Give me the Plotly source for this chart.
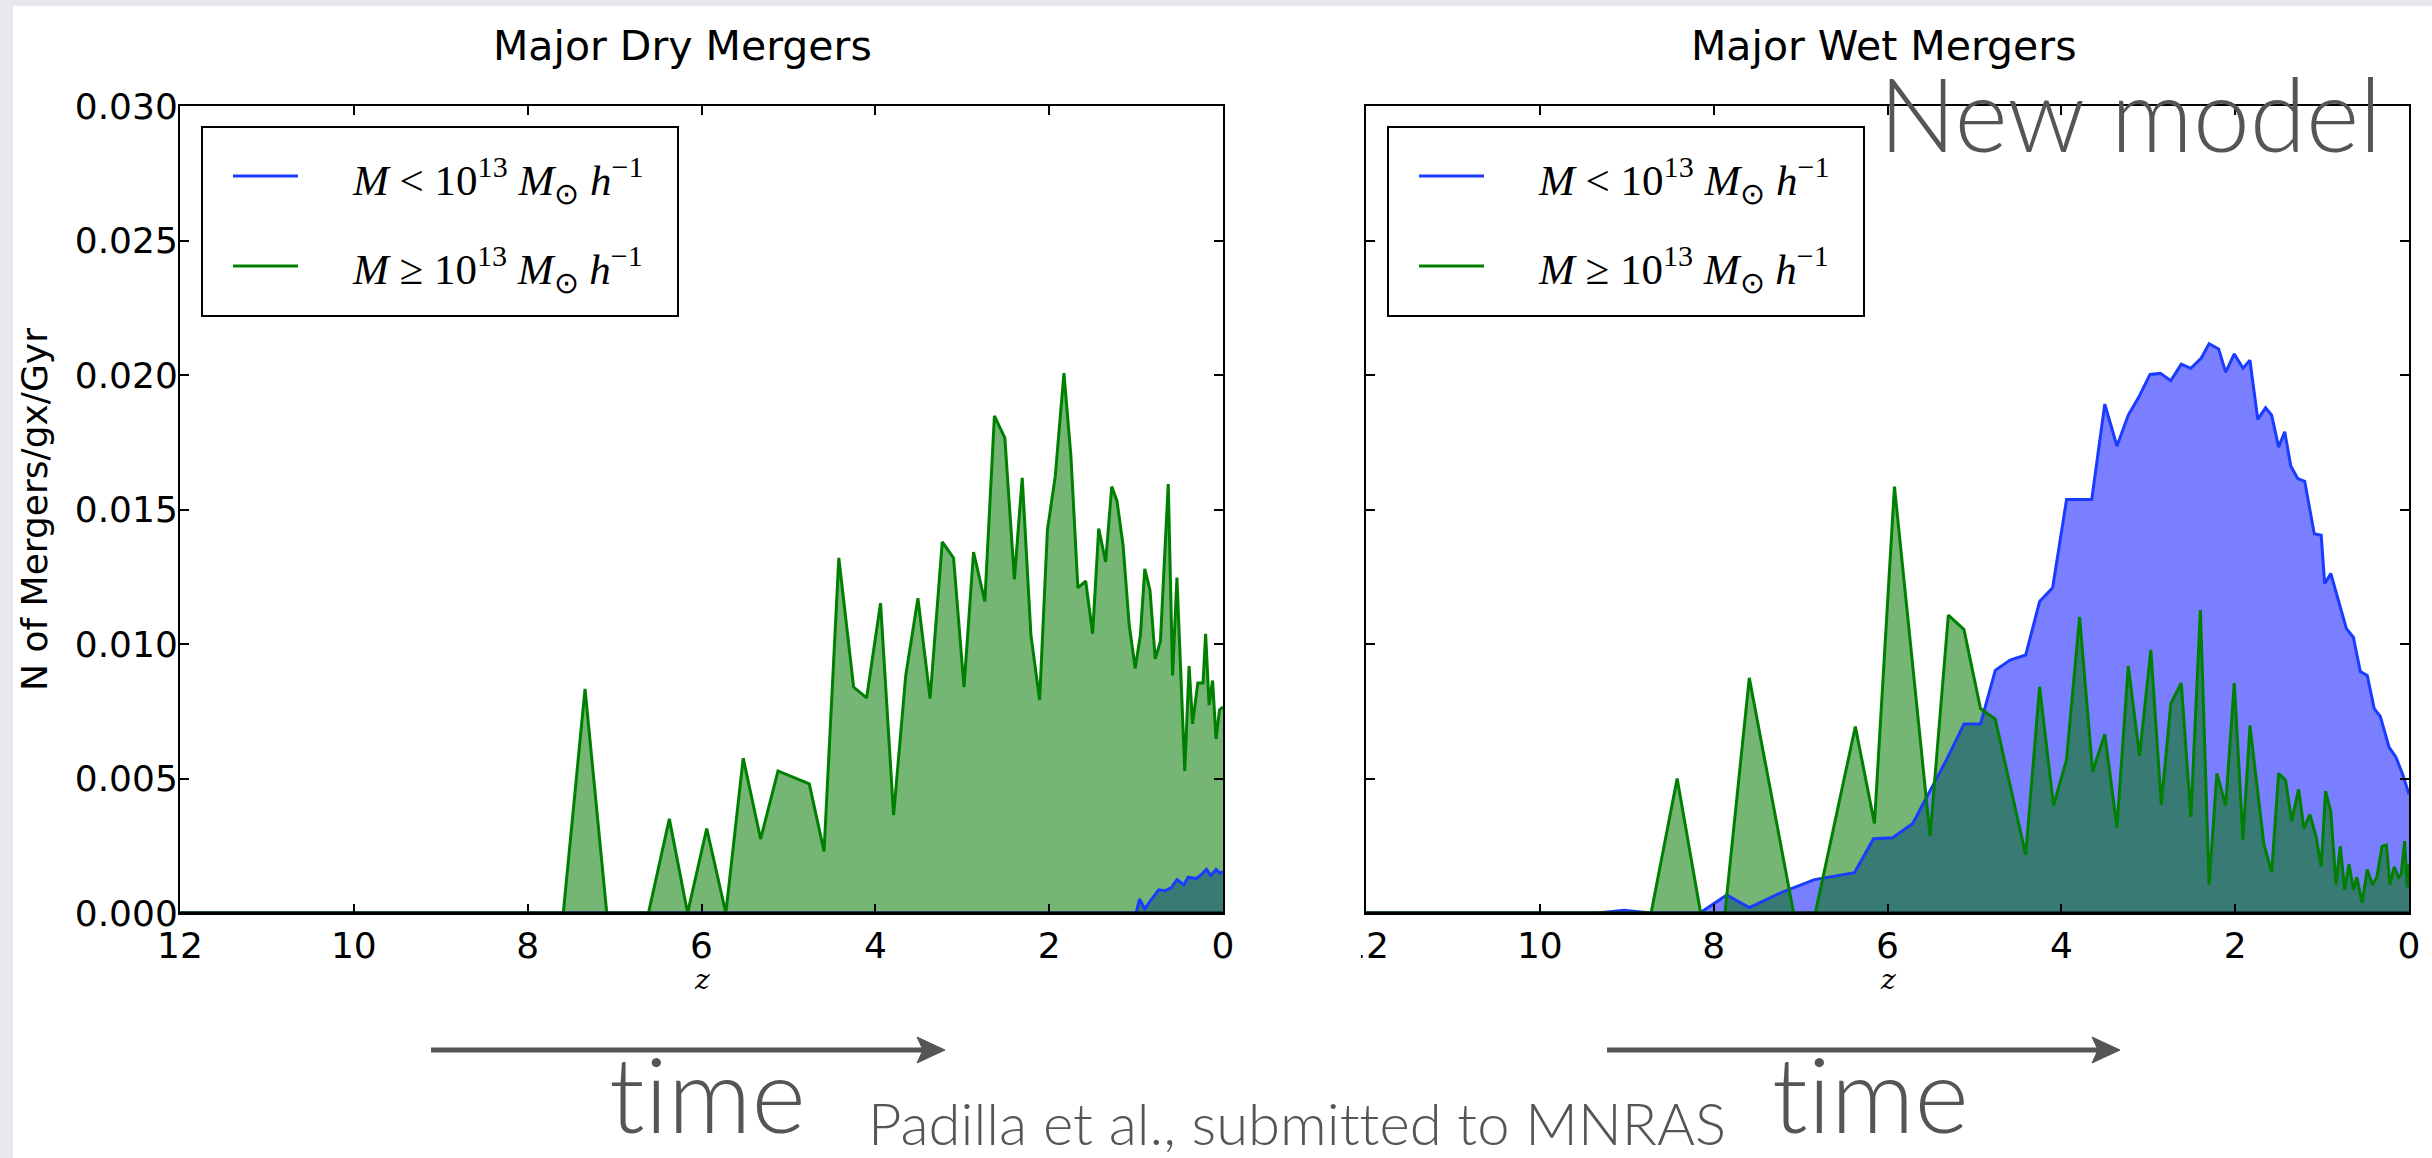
import plotly.graph_objects as go

W, H = 2432, 1158

# ---------------- data ----------------
dry_small_z = [12.0, 1.00, 0.96, 0.90, 0.83, 0.74, 0.66, 0.59, 0.53, 0.45, 0.40, 0.31, 0.26, 0.19, 0.14, 0.08, 0.03, 0.0]
dry_small_n = [0, 0, 0.00052, 0.00015, 0.00048, 0.00086, 0.00083, 0.00096, 0.00124, 0.00105, 0.00133, 0.00128,
               0.00139, 0.00162, 0.00139, 0.00162, 0.00147, 0.00155]

dry_large_z = [12.0, 7.59, 7.34, 7.09, 6.61, 6.37, 6.16, 5.94, 5.72, 5.52, 5.32, 5.12, 4.76, 4.59, 4.42, 4.25, 4.10,
               3.94, 3.79, 3.65, 3.51, 3.37, 3.23, 3.10, 2.98, 2.87, 2.74, 2.63, 2.51, 2.40, 2.31, 2.21, 2.11, 2.02,
               1.93, 1.83, 1.75, 1.67, 1.58, 1.50, 1.43, 1.35, 1.28, 1.22, 1.15, 1.08, 1.01, 0.95, 0.90, 0.84, 0.78,
               0.72, 0.63, 0.58, 0.53, 0.44, 0.39, 0.35, 0.29, 0.23, 0.20, 0.16, 0.12, 0.08, 0.04, 0.0]
dry_large_n = [0, 0, 0.00833, 0, 0, 0.0035, 0, 0.00314, 0, 0.00576, 0.00275, 0.00528, 0.0048, 0.00229, 0.0132, 0.0084,
               0.0080, 0.01152, 0.00364, 0.00883, 0.0117, 0.00797, 0.0138, 0.0132, 0.0084, 0.01342, 0.01158, 0.01848,
               0.01766, 0.0124, 0.01618, 0.01034, 0.00792, 0.01424, 0.01623, 0.02007, 0.017, 0.01209, 0.01234,
               0.01038, 0.01429, 0.01305, 0.01585, 0.01532, 0.01368, 0.01073, 0.0091, 0.01034, 0.01279, 0.012,
               0.00945, 0.0101, 0.01595, 0.00883, 0.01247, 0.00528, 0.00918, 0.00703, 0.00855, 0.00855, 0.01038,
               0.00773, 0.00864, 0.00647, 0.00755, 0.00766]

wet_small_z = [12.0, 9.33, 9.03, 8.73, 8.16, 7.85, 7.59, 7.21, 6.84, 6.38, 6.16, 5.94, 5.71, 5.52, 5.32, 5.12, 4.93,
               4.76, 4.59, 4.41, 4.25, 4.10, 3.94, 3.65, 3.50, 3.36, 3.23, 3.11, 2.98, 2.86, 2.74, 2.62, 2.51, 2.39,
               2.30, 2.19, 2.11, 2.01, 1.91, 1.83, 1.74, 1.65, 1.58, 1.50, 1.43, 1.36, 1.28, 1.20, 1.09, 1.01, 0.97,
               0.90, 0.81, 0.72, 0.64, 0.56, 0.48, 0.40, 0.33, 0.23, 0.15, 0.07, 0.0]
wet_small_n = [0, 0, 0.0001, 0, 0, 0.00067, 0.0002, 0.00078, 0.00124, 0.0015, 0.00276, 0.0028, 0.00333, 0.00446,
               0.0057, 0.00703, 0.00703, 0.00902, 0.0094, 0.00959, 0.01158, 0.01209, 0.01537, 0.01537, 0.01892,
               0.01736, 0.01851, 0.01917, 0.02002, 0.02006, 0.01979, 0.0204, 0.02025, 0.02063, 0.02116, 0.02097,
               0.02011, 0.02078, 0.02025, 0.02055, 0.01835, 0.01878, 0.01851, 0.01732, 0.01789, 0.01662, 0.01615,
               0.01605, 0.0141, 0.01404, 0.01224, 0.01262, 0.01158, 0.01057, 0.01025, 0.00898, 0.00883, 0.0076,
               0.00731, 0.00617, 0.00579, 0.00513, 0.00442]

wet_large_z = [12.0, 8.72, 8.42, 8.15, 7.87, 7.59, 7.08, 6.83, 6.37, 6.15, 5.92, 5.51, 5.30, 5.12, 4.93, 4.76, 4.41,
               4.25, 4.09, 3.94, 3.79, 3.64, 3.50, 3.36, 3.23, 3.10, 2.97, 2.85, 2.74, 2.62, 2.51, 2.40, 2.30, 2.21,
               2.11, 2.01, 1.91, 1.83, 1.67, 1.58, 1.50, 1.42, 1.35, 1.27, 1.21, 1.14, 1.07, 1.01, 0.96, 0.90, 0.84,
               0.79, 0.74, 0.69, 0.64, 0.60, 0.54, 0.48, 0.42, 0.37, 0.31, 0.26, 0.22, 0.17, 0.12, 0.09, 0.05, 0.02, 0.0]
wet_large_n = [0, 0, 0.005, 0, 0, 0.00874, 0, 0, 0.00693, 0.00333, 0.01585, 0.00286, 0.01107, 0.01054, 0.0076,
               0.00721, 0.00216, 0.00841, 0.00399, 0.0057, 0.01101, 0.00526, 0.00665, 0.00318, 0.00918, 0.00584,
               0.00978, 0.00403, 0.00778, 0.00855, 0.00357, 0.01126, 0.00105, 0.00519, 0.00399, 0.00855, 0.00272,
               0.00697, 0.00257, 0.00152, 0.00519, 0.00494, 0.00342, 0.0046, 0.00314, 0.00366, 0.00286, 0.00172,
               0.00453, 0.00377, 0.00105, 0.00248, 0.00086, 0.00181, 0.00086, 0.00133, 0.00038, 0.00162, 0.00105,
               0.00133, 0.00248, 0.00253, 0.00105, 0.00172, 0.00133, 0.00143, 0.00267, 0.00095, 0.00181]

panel_titles = ["Major Dry Mergers", "Major Wet Mergers"]
y_ticks = [0.000, 0.005, 0.010, 0.015, 0.020, 0.025, 0.030]
x_ticks = [12, 10, 8, 6, 4, 2, 0]
legend_labels = ["<i>M</i> &lt; 10<sup>13</sup> <i>M</i><sub>⊙</sub> <i>h</i><sup>−1</sup>",
                 "<i>M</i> ≥ 10<sup>13</sup> <i>M</i><sub>⊙</sub> <i>h</i><sup>−1</sup>"]
y_title = "N of Mergers/gx/Gyr"
x_title = "z"
ZWNJ = "\u200c"  # avoids the Lato "ti"/"tt" ligatures
time_label = "t" + ZWNJ + "ime"
credit = "Padilla et al., submit" + ZWNJ + "t" + ZWNJ + "ed to MNRAS"
model_label = "New model"

# ---------------- styling ----------------
BLUE = "#1a3cff"
GREEN = "#008000"
BLUE_FILL = "rgba(0,10,255,0.52)"
GREEN_FILL = "rgba(0,120,0,0.54)"
SLIDE_TXT = "#555555"


def px(x):
    return x / W


def py(y):
    return 1 - y / H


panels = [
    dict(xa="x", ya="y", x0=180, x1=1223, title_cx=682,
         small=(dry_small_z, dry_small_n), large=(dry_large_z, dry_large_n)),
    dict(xa="x2", ya="y2", x0=1366, x1=2409, title_cx=1884,
         small=(wet_small_z, wet_small_n), large=(wet_large_z, wet_large_n)),
]
Y_TOP, Y_BOT = 106, 913

fig = go.Figure()
for p in panels:
    sz, sn = p["small"]
    lz, ln = p["large"]
    fig.add_trace(go.Scatter(x=sz, y=sn, mode="lines", fill="tozeroy", fillcolor=BLUE_FILL,
                             line=dict(width=0, color=BLUE), xaxis=p["xa"], yaxis=p["ya"], showlegend=False,
                             hoverinfo="skip"))
    fig.add_trace(go.Scatter(x=lz, y=ln, mode="lines", fill="tozeroy", fillcolor=GREEN_FILL,
                             line=dict(width=0, color=GREEN), xaxis=p["xa"], yaxis=p["ya"], showlegend=False,
                             hoverinfo="skip"))
    fig.add_trace(go.Scatter(x=sz, y=sn, mode="lines", line=dict(width=3, color=BLUE),
                             xaxis=p["xa"], yaxis=p["ya"], showlegend=False))
    fig.add_trace(go.Scatter(x=lz, y=ln, mode="lines", line=dict(width=3, color=GREEN),
                             xaxis=p["xa"], yaxis=p["ya"], showlegend=False))

axis_common = dict(showline=True, linecolor="black", linewidth=2, mirror="ticks", ticks="inside",
                   ticklen=9, tickwidth=1.5, tickcolor="black", showgrid=False, zeroline=False,
                   tickfont=dict(family="DejaVu Sans", size=36, color="black"), automargin=False)

fig.update_layout(
    width=W, height=H, margin=dict(l=0, r=0, t=0, b=0),
    paper_bgcolor="white", plot_bgcolor="white", showlegend=False,
    xaxis=dict(domain=[px(180), px(1223)], range=[12, 0], tickvals=x_ticks, anchor="y", **axis_common),
    yaxis=dict(domain=[py(Y_BOT), py(Y_TOP)], range=[0, 0.030], tickvals=y_ticks, tickformat=".3f", anchor="x",
               title=dict(text=y_title, standoff=16, font=dict(family="DejaVu Sans", size=36, color="black")),
               ticklabelstandoff=-7, **axis_common),
    xaxis2=dict(domain=[px(1366), px(2409)], range=[12, 0], tickvals=x_ticks, anchor="y2", **axis_common),
    yaxis2=dict(domain=[py(Y_BOT), py(Y_TOP)], range=[0, 0.030], tickvals=y_ticks, anchor="x2",
                showticklabels=False, **axis_common),
)

shapes = []
annotations = []
# slide background strips
shapes.append(dict(type="rect", xref="paper", yref="paper", x0=0, x1=px(13), y0=0, y1=1,
                   fillcolor="#e6e8eb", line=dict(width=0), layer="below"))
shapes.append(dict(type="rect", xref="paper", yref="paper", x0=0, x1=1, y0=py(6), y1=1,
                   fillcolor="#e6e8eb", line=dict(width=0), layer="below"))
# cropped "12" on right panel
shapes.append(dict(type="rect", xref="paper", yref="paper", x0=px(1328), x1=px(1361), y0=py(960), y1=py(921),
                   fillcolor="white", line=dict(width=0), layer="above"))

for i, p in enumerate(panels):
    # bottom spine centred on y=0 (hides the zero-level parts of the lines, as in the original)
    shapes.append(dict(type="line", xref=p["xa"] + " domain", yref=p["ya"], x0=0, x1=1, y0=0, y1=0,
                       line=dict(color="black", width=3), layer="above"))
    dx = p["x0"] - 180
    shapes.append(dict(type="rect", xref="paper", yref="paper", x0=px(202 + dx), x1=px(678 + dx),
                       y0=py(316), y1=py(127), fillcolor="white", line=dict(color="black", width=2),
                       layer="above"))
    for j, (col, yy) in enumerate([(BLUE, 176), (GREEN, 266)]):
        shapes.append(dict(type="line", xref="paper", yref="paper", x0=px(233 + dx), x1=px(298 + dx),
                           y0=py(yy), y1=py(yy), line=dict(color=col, width=3), layer="above"))
        annotations.append(dict(text=legend_labels[j], xref="paper", yref="paper", x=px(350 + dx), y=py(yy + 4),
                                xanchor="left", yanchor="middle", showarrow=False,
                                font=dict(family="Liberation Serif", size=43, color="black")))
    annotations.append(dict(text=panel_titles[i], xref="paper", yref="paper", x=px(p["title_cx"]),
                            y=py(46), xanchor="center", yanchor="middle", showarrow=False,
                            font=dict(family="DejaVu Sans", size=41, color="black")))
    # x-axis label
    annotations.append(dict(text=x_title, xref="paper", yref="paper", x=px((p["x0"] + p["x1"]) / 2),
                            y=py(979), xanchor="center", yanchor="middle", showarrow=False,
                            font=dict(family="DejaVu Serif", size=28, style="italic", color="black")))

# slide texts
slide_font = dict(family="Lato", weight=300, color=SLIDE_TXT)
annotations.append(dict(text=model_label, xref="paper", yref="paper", x=px(2130), y=py(112),
                        xanchor="center", yanchor="middle", showarrow=False, font=dict(size=102, **slide_font)))
for cx in (707, 1870):
    annotations.append(dict(text=time_label, xref="paper", yref="paper", x=px(cx), y=py(1092),
                            xanchor="center", yanchor="middle", showarrow=False, font=dict(size=104, **slide_font)))
annotations.append(dict(text=credit, xref="paper", yref="paper", x=px(866), y=py(1122),
                        xanchor="left", yanchor="middle", showarrow=False, font=dict(size=58, **slide_font)))

# arrows
for x0, x1 in ((431, 945), (1607, 2120)):
    shapes.append(dict(type="line", xref="paper", yref="paper", x0=px(x0), x1=px(x1 - 12), y0=py(1050),
                       y1=py(1050), line=dict(color=SLIDE_TXT, width=5)))
    path = (f"M {px(x1)},{py(1050)} L {px(x1 - 28)},{py(1037)} L {px(x1 - 22)},{py(1050)} "
            f"L {px(x1 - 28)},{py(1063)} Z")
    shapes.append(dict(type="path", xref="paper", yref="paper", path=path, fillcolor=SLIDE_TXT,
                       line=dict(color=SLIDE_TXT, width=1)))

fig.update_layout(shapes=shapes, annotations=annotations)
fig.write_html("out.html")
